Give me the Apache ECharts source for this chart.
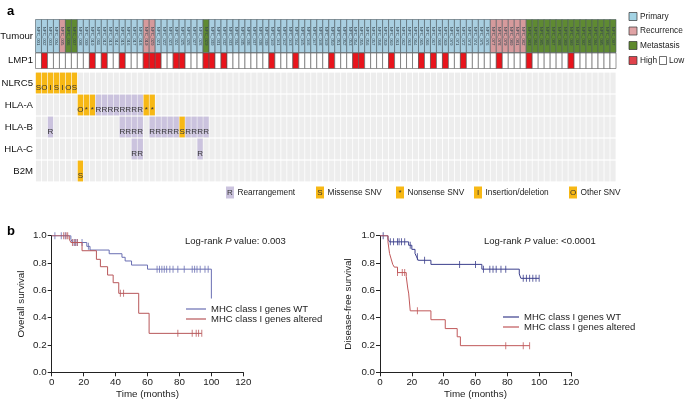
<!DOCTYPE html>
<html><head><meta charset="utf-8">
<script src="https://cdn.jsdelivr.net/npm/echarts/dist/echarts.min.js"></script>
<style>html,body{margin:0;padding:0;background:#fff}#c{width:685px;height:400px}</style>
</head><body><div id="c"></div>
<script>
// ---------- Panel a data ----------
// P = primary, R = recurrence, M = metastasis (one letter per sample column)
const tumourTypes = ("PPPP" + "R" + "MM" + "PPPPPPPPPP" + "P" + "RR" + "PPPPPPPP" + "M" +
  "PPPPPPPPPP" + "PPPPPPPPPP" + "PPPPPPPPPP" + "PPPPPPPPPP" + "PPPPPPP" +
  "RRRRRR" + "MMMMMMMMMM" + "MMMMM").split('');
const sampleIds = tumourTypes.map((t, i) => 'NPC_' + String(i + 1).padStart(3, '0'));
const lmp1High = [1, 9, 11, 14, 18, 19, 20, 23, 24, 28, 29, 31, 39, 43, 49, 53, 54, 59, 64, 66, 68, 71, 77, 82, 89];
const genes = ['NLRC5', 'HLA-A', 'HLA-B', 'HLA-C', 'B2M'];
const nlrc5Alt = [[0, 'S'], [1, 'O'], [2, 'I'], [3, 'S'], [4, 'I'], [5, 'O'], [6, 'S']];
const hlaAAlt = [[7, 'O'], [8, '*'], [9, '*'], [10, 'R'], [11, 'R'], [12, 'R'], [13, 'R'], [14, 'R'], [15, 'R'], [16, 'R'], [17, 'R'], [18, '*'], [19, '*']];
const hlaBAlt = [[2, 'R'], [14, 'R'], [15, 'R'], [16, 'R'], [17, 'R'], [19, 'R'], [20, 'R'], [21, 'R'], [22, 'R'], [23, 'R'], [24, 'S'], [25, 'R'], [26, 'R'], [27, 'R'], [28, 'R']];
const hlaCAlt = [[16, 'R'], [17, 'R'], [27, 'R']];
const b2mAlt = [[7, 'S']];

// ---------- Panel b data ----------
const osWT = [[0, 1], [12, 0.975], [13, 0.95], [22, 0.922], [24, 0.895], [36, 0.868], [44, 0.842], [46, 0.815], [50, 0.785], [60, 0.755], [100, 0.755], [100, 0.54]];
const osWTCens = [[2, 1], [6, 1], [8.5, 1], [14, 0.95], [15, 0.95], [16, 0.95], [19, 0.95], [23, 0.922], [66, 0.755], [67.5, 0.755], [69, 0.755], [70.5, 0.755], [72, 0.755], [74, 0.755], [76, 0.755], [79, 0.755], [83, 0.755], [88, 0.755], [89.5, 0.755], [91, 0.755], [93, 0.755], [96, 0.755], [98, 0.755]];
const osAlt = [[0, 1], [11, 0.975], [12, 0.95], [19, 0.89], [28, 0.827], [30.5, 0.773], [35, 0.712], [38.5, 0.656], [42, 0.578], [54.5, 0.432], [61, 0.285], [94, 0.285]];
const osAltCens = [[7.5, 1], [9, 1], [10, 1], [13, 0.95], [14.5, 0.95], [16, 0.95], [43, 0.578], [45, 0.578], [79, 0.285], [88, 0.285], [90.5, 0.285], [92, 0.285], [94, 0.285]];
const dfsWT = [[0, 1], [5, 0.975], [6, 0.955], [18, 0.93], [20, 0.9], [22, 0.87], [23, 0.845], [24, 0.82], [32, 0.79], [64, 0.755], [87.5, 0.72], [88.5, 0.688], [100, 0.688]];
const dfsWTCens = [[2, 1], [6.5, 0.955], [8.5, 0.955], [11, 0.955], [12, 0.955], [13.5, 0.955], [15.5, 0.955], [19, 0.93], [23.5, 0.845], [28, 0.82], [50, 0.79], [60, 0.79], [65, 0.755], [69, 0.755], [71, 0.755], [73, 0.755], [76, 0.755], [79, 0.755], [90, 0.688], [92, 0.688], [94, 0.688], [96, 0.688], [98, 0.688], [100, 0.688]];
const dfsAlt = [[0, 1], [5, 0.955], [6, 0.87], [7, 0.83], [8, 0.79], [9, 0.77], [11, 0.73], [16.5, 0.70], [17.5, 0.61], [18, 0.58], [19, 0.45], [32, 0.385], [41, 0.32], [48.5, 0.26], [50.5, 0.195], [94, 0.195]];
const dfsAltCens = [[11, 0.73], [14, 0.73], [15.5, 0.73], [23.5, 0.45], [79, 0.195], [90, 0.195], [94, 0.195]];

// ---------- styles ----------
const FONT = 'Liberation Sans, Arial, Helvetica, sans-serif';
const typeColor = { P: '#a9cfe1', R: '#d69a9c', M: '#5f8a32' };
const YEL = '#f7b815', PUR = '#cbc3de';
const cols = tumourTypes.map((t, i) => String(i));

const geneAlts = [nlrc5Alt, hlaAAlt, hlaBAlt, hlaCAlt, b2mAlt];
const altData = [];
geneAlts.forEach((arr, g) => arr.forEach(a => altData.push([a[0], g, a[1]])));
const bgData = [];
for (let g = 0; g < genes.length; g++) for (let i = 0; i < cols.length; i++) bgData.push([i, g]);

function cellRect(api, xi, yi) {
  const c = api.coord([xi, yi]);
  const s = api.size([1, 1]);
  return { cx: c[0], cy: c[1], x: c[0] - s[0] / 2, y: c[1] - s[1] / 2, w: s[0], h: s[1] };
}

const hiddenCatX = (gi) => ({ type: 'category', gridIndex: gi, data: cols, show: false, boundaryGap: true });
const catY = (gi, data) => ({
  type: 'category', gridIndex: gi, data: data, inverse: true,
  axisLine: { show: false }, axisTick: { show: false }, splitLine: { show: false },
  axisLabel: { fontSize: 9.6, color: '#111', margin: 2.5, fontFamily: FONT }
});
const kmX = (gi) => ({
  type: 'value', gridIndex: gi, min: 0, max: 120, interval: 20,
  name: 'Time (months)', nameLocation: 'middle', nameGap: 17,
  nameTextStyle: { fontSize: 9.8, color: '#222', fontFamily: FONT },
  axisLine: { show: true, onZero: false, lineStyle: { color: '#222', width: 1 } },
  axisTick: { show: true, length: 4, lineStyle: { color: '#222' } },
  axisLabel: { fontSize: 9.8, color: '#222', margin: 5, fontFamily: FONT },
  splitLine: { show: false }
});
const kmY = (gi, name, gap) => ({
  type: 'value', gridIndex: gi, min: 0, max: 1, interval: 0.2,
  name: name, nameLocation: 'middle', nameGap: gap,
  nameTextStyle: { fontSize: 9.8, color: '#222', fontFamily: FONT },
  axisLine: { show: true, onZero: false, lineStyle: { color: '#222', width: 1 } },
  axisTick: { show: true, length: 4, lineStyle: { color: '#222' } },
  axisLabel: { fontSize: 9.8, color: '#222', margin: 5, fontFamily: FONT, formatter: v => v.toFixed(1) },
  splitLine: { show: false }
});

const C_OSWT = '#6a6fb3', C_OSALT = '#b8575a', C_DFSWT = '#3b3f8c', C_DFSALT = '#c0585a';
const kmLine = (name, data, color, xi) => ({
  name, type: 'line', xAxisIndex: xi, yAxisIndex: xi, data, step: 'end', symbol: 'none',
  lineStyle: { color, width: 1 }, itemStyle: { color }, animation: false, silent: true
});
const kmCens = (name, data, color, xi) => ({
  name, type: 'scatter', xAxisIndex: xi, yAxisIndex: xi, data, symbol: 'rect', symbolSize: [1, 7],
  itemStyle: { color }, animation: false, silent: true
});
const legendNames = {
  osWT: 'MHC class I genes WT', osAlt: 'MHC class I genes altered',
  dfsWT: 'MHC class I genes WT', dfsAlt: 'MHC class I genes altered'
};

// ---------- legend graphics ----------
const gtext = (x, y, text, size) => ({ type: 'text', x, y, style: { text, fontSize: size || 8.3, fill: '#222', fontFamily: FONT, verticalAlign: 'middle' } });
const gbox = (x, y, w, h, fill, stroke) => ({ type: 'rect', shape: { x, y, width: w, height: h }, style: { fill, stroke: stroke || null, lineWidth: 0.7 } });
const graphics = [
  gbox(629, 12.5, 8, 8, '#a3d3e4', '#333'), gtext(640, 16.5, 'Primary'),
  gbox(629, 27, 8, 8, '#e0a3a5', '#333'), gtext(640, 31, 'Recurrence'),
  gbox(629, 41.5, 8, 8, '#5f8a2e', '#333'), gtext(640, 45.5, 'Metastasis'),
  gbox(629, 56.5, 8, 8, '#e0424b', '#333'), gtext(640, 60.5, 'High'),
  gbox(659.5, 56.5, 7, 8, '#fff', '#333'), gtext(669, 60.5, 'Low')
];
const mutLegend = [[226, 'R', PUR, 'Rearrangement'], [316, 'S', YEL, 'Missense SNV'], [396, '*', YEL, 'Nonsense SNV'], [474, 'I', YEL, 'Insertion/deletion'], [569, 'O', YEL, 'Other SNV']];
mutLegend.forEach(m => {
  graphics.push(gbox(m[0], 186.5, 8, 12, m[2]));
  graphics.push({ type: 'text', x: m[0] + 4, y: 193, style: { text: m[1], fontSize: 8, fill: '#333', fontFamily: FONT, align: 'center', verticalAlign: 'middle' } });
  graphics.push(gtext(m[0] + 11.5, 192.5, m[3]));
});

const richLR = {
  a: { fontSize: 9.5, color: '#222', fontWeight: 'normal', fontFamily: FONT },
  i: { fontSize: 9.5, color: '#222', fontWeight: 'normal', fontStyle: 'italic', fontFamily: FONT }
};

const option = {
  animation: false,
  backgroundColor: '#fff',
  textStyle: { fontFamily: FONT },
  title: [
    { text: 'a', left: 2, top: 0, textStyle: { fontSize: 13, fontWeight: 'bold', color: '#000', fontFamily: FONT } },
    { text: 'b', left: 2, top: 220, textStyle: { fontSize: 13, fontWeight: 'bold', color: '#000', fontFamily: FONT } },
    { text: '{a|Log-rank }{i|P}{a| value: 0.003}', left: 185, top: 236, padding: 0,
      textStyle: { fontWeight: 'normal', rich: richLR } },
    { text: '{a|Log-rank }{i|P}{a| value: <0.0001}', left: 484, top: 236, padding: 0,
      textStyle: { fontWeight: 'normal', rich: richLR } }
  ],
  legend: [
    { orient: 'vertical', left: 186, top: 304, padding: 0, itemGap: 0, itemWidth: 20, itemHeight: 1.2, icon: 'rect',
      data: ['osWT', 'osAlt'], formatter: n => legendNames[n], selectedMode: false,
      textStyle: { fontSize: 9.5, color: '#222', lineHeight: 10, fontFamily: FONT } },
    { orient: 'vertical', left: 503, top: 312, padding: 0, itemGap: 0, itemWidth: 16, itemHeight: 1.2, icon: 'rect',
      data: ['dfsWT', 'dfsAlt'], formatter: n => legendNames[n], selectedMode: false,
      textStyle: { fontSize: 9.5, color: '#222', lineHeight: 10, fontFamily: FONT } }
  ],
  grid: [
    { left: 35.5, top: 19.5, width: 580.5, height: 33, containLabel: false, outerBoundsMode: 'none' },
    { left: 35.5, top: 53, width: 580.5, height: 15.5, containLabel: false, outerBoundsMode: 'none' },
    { left: 35.5, top: 72, width: 580.5, height: 110, containLabel: false, outerBoundsMode: 'none' },
    { left: 51.7, top: 235.7, width: 191.6, height: 136.6, containLabel: false, outerBoundsMode: 'none' },
    { left: 380, top: 235.7, width: 191, height: 136.6, containLabel: false, outerBoundsMode: 'none' }
  ],
  xAxis: [hiddenCatX(0), hiddenCatX(1), hiddenCatX(2), kmX(3), kmX(4)],
  yAxis: [catY(0, ['Tumour']), catY(1, ['LMP1']), catY(2, genes), kmY(3, 'Overall survival', 25), kmY(4, 'Disease-free survival', 27)],
  graphic: graphics,
  series: [
    {
      type: 'custom', xAxisIndex: 0, yAxisIndex: 0, silent: true,
      data: tumourTypes.map((t, i) => [i, 0]),
      renderItem: (params, api) => {
        const r = cellRect(api, api.value(0), api.value(1));
        const t = tumourTypes[params.dataIndex];
        return { type: 'group', children: [
          { type: 'rect', shape: { x: r.x, y: r.y, width: r.w, height: r.h }, style: { fill: typeColor[t], stroke: '#4d5a62', lineWidth: 0.6 } },
          { type: 'text', x: r.cx, y: r.cy, rotation: -Math.PI / 2,
            style: { text: sampleIds[params.dataIndex], fontSize: 4.3, fill: '#34434d', align: 'center', verticalAlign: 'middle', fontFamily: FONT } }
        ] };
      }
    },
    {
      type: 'custom', xAxisIndex: 1, yAxisIndex: 1, silent: true,
      data: tumourTypes.map((t, i) => [i, 0]),
      renderItem: (params, api) => {
        const r = cellRect(api, api.value(0), api.value(1));
        const hi = lmp1High.indexOf(params.dataIndex) >= 0;
        return { type: 'rect', shape: { x: r.x, y: r.y, width: r.w, height: r.h }, style: { fill: hi ? '#e8141c' : '#ffffff', stroke: '#555', lineWidth: 0.6 } };
      }
    },
    {
      type: 'custom', xAxisIndex: 2, yAxisIndex: 2, silent: true, data: bgData,
      renderItem: (params, api) => {
        const r = cellRect(api, api.value(0), api.value(1));
        return { type: 'rect', shape: { x: r.x + 0.4, y: r.y + 0.6, width: r.w - 0.8, height: r.h - 1.2 }, style: { fill: '#ededed' } };
      }
    },
    {
      type: 'custom', xAxisIndex: 2, yAxisIndex: 2, silent: true, data: altData.map(a => [a[0], a[1]]),
      renderItem: (params, api) => {
        const r = cellRect(api, api.value(0), api.value(1));
        const code = altData[params.dataIndex][2];
        return { type: 'group', children: [
          { type: 'rect', shape: { x: r.x + 0.3, y: r.y + 0.6, width: r.w - 0.6, height: r.h - 1.2 }, style: { fill: code === 'R' ? PUR : YEL } },
          { type: 'text', x: r.cx, y: r.y + r.h * 0.7, style: { text: code, fontSize: 8, fill: '#333', align: 'center', verticalAlign: 'middle', fontFamily: FONT } }
        ] };
      }
    },
    kmLine('osWT', osWT, C_OSWT, 3),
    kmLine('osAlt', osAlt, C_OSALT, 3),
    kmCens('osWTc', osWTCens, C_OSWT, 3),
    kmCens('osAltc', osAltCens, C_OSALT, 3),
    kmLine('dfsWT', dfsWT, C_DFSWT, 4),
    kmLine('dfsAlt', dfsAlt, C_DFSALT, 4),
    kmCens('dfsWTc', dfsWTCens, C_DFSWT, 4),
    kmCens('dfsAltc', dfsAltCens, C_DFSALT, 4)
  ]
};
const chart = echarts.init(document.getElementById('c'), null, { renderer: 'canvas' });
chart.setOption(option);
</script>
</body></html>
